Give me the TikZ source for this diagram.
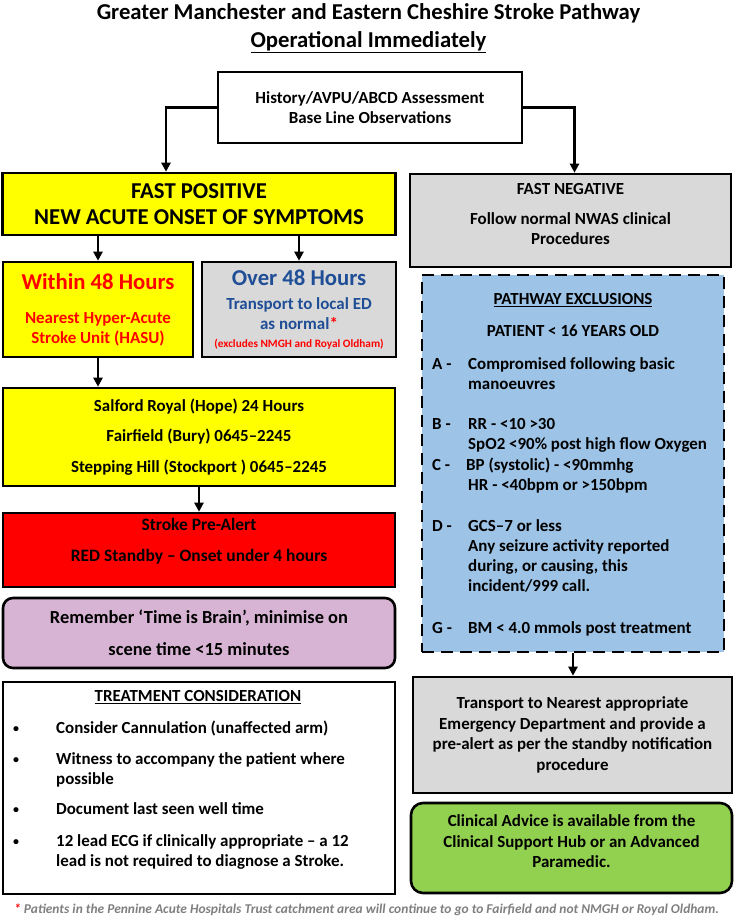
\documentclass[tikz,border=0pt]{standalone}
\usepackage{fontspec}
\setmainfont{Carlito}
\usetikzlibrary{arrows.meta,positioning}

\definecolor{giallo}{RGB}{255,255,0}
\definecolor{grigio}{RGB}{217,217,217}
\definecolor{rosso}{RGB}{255,0,0}
\definecolor{lilla}{RGB}{215,180,212}
\definecolor{azzurro}{RGB}{157,195,230}
\definecolor{verde}{RGB}{146,208,80}
\definecolor{blu}{RGB}{31,78,150}
\definecolor{grigioscuro}{RGB}{127,127,127}

\newcommand{\carattere}[2]{\fontsize{#1}{#2}\selectfont\bfseries} % #1 corpo, #2 interlinea

\tikzset{
  casella/.style={draw=black, line width=2.6bp, inner sep=0pt, align=center},
  freccia/.style={line width=2.4bp, -{Triangle[length=9bp,width=9bp]}},
  testo/.style={inner sep=0pt, align=center},
  riga/.style={inner sep=0pt, anchor=base west, font=\carattere{17}{20}},
}

\begin{document}
\begin{tikzpicture}[x=1bp, y=-1bp]
    \useasboundingbox (0,0) rectangle (737,922);

    % titolo
    \node[testo, font=\carattere{22.8}{28}] (titolo) at (368.5,28)
        {Greater Manchester and Eastern Cheshire Stroke Pathway\\\underline{Operational Immediately}};

    % valutazione iniziale
    \node[casella, fill=white, minimum width=304bp, minimum height=71bp, font=\carattere{17}{20}] (storia) at (370,107.5)
        {History/AVPU/ABCD Assessment\\Base Line Observations};

    % colonna sinistra
    \node[casella, fill=giallo, minimum width=393bp, minimum height=62bp, font=\carattere{22.8}{26}] (positivo) at (199,204)
        {FAST POSITIVE\\NEW ACUTE ONSET OF SYMPTOMS};
    \node[casella, fill=giallo, text=rosso, minimum width=190bp, minimum height=95bp, font=\carattere{17}{20}] (entro) at (98,309.5)
        {{\fontsize{22.8}{22}\selectfont Within 48 Hours}\\[14bp]Nearest Hyper-Acute\\Stroke Unit (HASU)};
    \node[casella, fill=grigio, text=blu, minimum width=194bp, minimum height=95bp, font=\carattere{17}{20}] (oltre) at (299,309.5)
        {{\fontsize{22.8}{22}\selectfont Over 48 Hours}\\[5bp]Transport to local ED\\as normal\textcolor{rosso}{*}\\[-2bp]
         {\color{rosso}\fontsize{11.3}{11}\selectfont (excludes NMGH and Royal Oldham)}};
    \node[casella, fill=giallo, minimum width=392bp, minimum height=98bp, font=\carattere{17}{30.5}] (ospedali) at (199,437)
        {Salford Royal (Hope) 24 Hours\\Fairfield (Bury) 0645–2245\\Stepping Hill (Stockport ) 0645–2245};
    \node[casella, fill=rosso, minimum width=392bp, minimum height=74bp] (allerta) at (199,550) {};
    \node[testo, font=\carattere{17.5}{31}, below=6bp of allerta.north] (allerta-t)
        {Stroke Pre-Alert\\RED Standby – Onset under 4 hours};
    \node[casella, fill=lilla, rounded corners=10bp, minimum width=392bp, minimum height=70bp, font=\carattere{18.5}{32}] (ricorda) at (199,633)
        {Remember ‘Time is Brain’, minimise on\\scene time <15 minutes};
    \node[casella, fill=white, minimum width=392bp, minimum height=212bp] (cure) at (199,788) {};
    \node[testo, font=\carattere{17}{20}] (cure-t) at (198,697) {\underline{TREATMENT CONSIDERATION}};
    \foreach \y in {727,758,808,840} {
        \node[riga, font=\carattere{12}{14}] (punto\y) at (13,\y+5) {•};
    }
    \foreach \y/\frase in {727/{Consider Cannulation (unaffected arm)}, 758/{Witness to accompany the patient where},
                           778/possible, 808/{Document last seen well time},
                           840/{12 lead ECG if clinically appropriate – a 12}, 860/{lead is not required to diagnose a Stroke.}} {
        \node[riga] (cura\y) at (56,\y+6) {\frase};
    }

    % colonna destra
    \node[casella, fill=grigio, minimum width=321bp, minimum height=93bp] (negativo) at (570.5,220.5) {};
    \node[testo, font=\carattere{17}{20}, below=10bp of negativo.north] (negativo-t)
        {FAST NEGATIVE\\[11bp]Follow normal NWAS clinical\\Procedures};
    \node[casella, fill=azzurro, dash pattern=on 12bp off 7bp, minimum width=302bp, minimum height=377bp] (esclusioni) at (573,463.5) {};
    \node[testo, font=\carattere{17}{20}] (esclusioni-t) at (573,300) {\underline{PATHWAY EXCLUSIONS}};
    \node[testo, font=\carattere{17}{20}] (eta) at (573,331) {PATIENT < 16 YEARS OLD};
    \foreach \y/\lettera in {363/A, 423/B, 464/C, 525/D, 627/G} {
        \node[riga] (lettera\y) at (432,\y+6) {\lettera\ -};
    }
    \foreach \y/\frase in {363/{Compromised following basic}, 383/manoeuvres, 423/{RR - <10 >30},
                           443/{SpO2 <90\% post high flow Oxygen}, 484/{HR - <40bpm or >150bpm},
                           525/{GCS–7 or less}, 545/{Any seizure activity reported}, 565/{during, or causing, this},
                           585/{incident/999 call.}, 627/{BM < 4.0 mmols post treatment}} {
        \node[riga] (voce\y) at (468,\y+6) {\frase};
    }
    \node[riga] (voce464) at (466,470) {BP (systolic) - <90mmhg};
    \node[casella, fill=grigio, minimum width=319bp, minimum height=116bp, font=\carattere{17}{20.5}] (trasporto) at (572.5,735)
        {Transport to Nearest appropriate\\Emergency Department and provide a\\pre-alert as per the standby notification\\procedure};
    \node[casella, fill=verde, rounded corners=12bp, minimum width=321bp, minimum height=90bp] (consiglio) at (571.5,848) {};
    \node[testo, font=\carattere{17}{20.5}, below=13bp of consiglio.north] (consiglio-t)
        {Clinical Advice is available from the\\Clinical Support Hub or an Advanced\\Paramedic.};

    % nota a piè di pagina
    \node[inner sep=0pt, anchor=west, font=\fontsize{13.5}{16}\selectfont\bfseries\itshape] (nota) at (14,910)
        {\textcolor{rosso}{*} \textcolor{grigioscuro}{Patients in the Pennine Acute Hospitals Trust catchment area will continue to go to Fairfield and not NMGH or Royal Oldham.}};

    % frecce
    \draw[freccia] (storia.west) -| ([xshift=-33bp]positivo.north);
    \draw[freccia] (storia.east) -| ([xshift=4bp]negativo.north);
    \draw[freccia] (positivo.south -| entro.north) -- (entro.north);
    \draw[freccia] (positivo.south -| oltre.north) -- (oltre.north);
    \draw[freccia] (entro.south) -- (entro.south |- ospedali.north);
    \draw[freccia] (ospedali.south) -- (allerta.north);
    \draw[freccia] (esclusioni.south) -- (esclusioni.south |- trasporto.north);
\end{tikzpicture}
\end{document}
